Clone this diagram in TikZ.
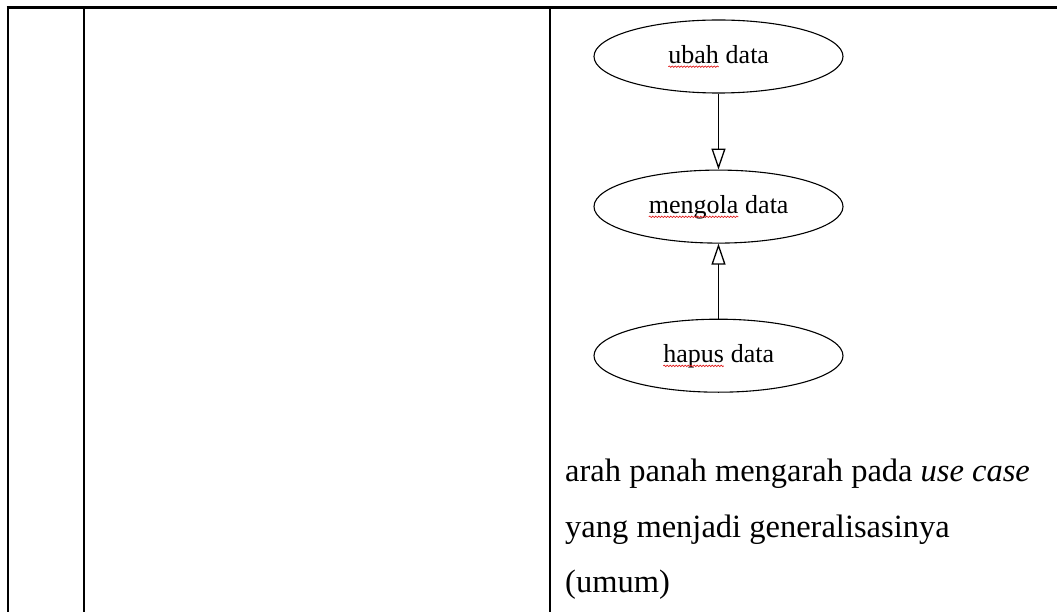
\documentclass[tikz,border=0pt]{standalone}
\usepackage{fontspec}
\setmainfont{Liberation Serif}
\usepackage{xcolor}
\usetikzlibrary{positioning,arrows.meta,shapes.geometric,decorations.pathmorphing}
\definecolor{spellred}{RGB}{225,30,30}
\newcommand{\typo}[1]{\tikz[baseline=(w.base)]{\node[rectangle, draw=none, fill=none, inner sep=0pt, outer sep=0pt, minimum width=0pt, minimum height=0pt, text height=, text depth=] (w) {#1}; \draw[spellred, line width=0.7pt, decorate, decoration={snake, amplitude=0.7pt, segment length=3pt}] ([yshift=-3.4pt]w.base west) -- ([yshift=-3.4pt]w.base east);}}

\begin{document}
\begin{tikzpicture}[x=1pt, y=-1pt,
  usecase/.style={draw, ellipse, line width=1.1pt, minimum width=249pt, minimum height=73pt, inner sep=0pt, font=\fontsize{26}{30}\selectfont, text height=18.2pt, text depth=4.6pt},
  gen/.style={-{Triangle[open, length=21pt, width=14pt, line width=1.3pt]}, line width=1.5pt},
  rule/.style={line width=2.4pt},
  note/.style={anchor=base west, inner sep=0pt, font=\fontsize{32.5}{40}\selectfont}]
\useasboundingbox (0,0) rectangle (1057,612);
% table lines
\draw[rule] (6.5,7.5) -- (1057,7.5);
\draw[rule] (7.7,7.5) -- (7.7,612);
\draw[rule] (83.7,7.5) -- (83.7,612);
\draw[rule] (549.7,7.5) -- (549.7,612);
% use cases
\node[usecase] (ubah) at (718.5,56.5) {\typo{ubah} data};
\node[usecase, below=76pt of ubah] (kelola) {\typo{mengola} data};
\node[usecase, below=75pt of kelola] (hapus) {\typo{hapus} data};
\draw[gen] (ubah) -- (kelola);
\draw[gen] (hapus) -- (kelola);
% keterangan
\node[note] (ket1) at (565,481) {arah panah mengarah pada \textit{use case}};
\node[note] (ket2) at (565,537) {yang menjadi generalisasinya};
\node[note] (ket3) at (565,592) {(umum)};
\end{tikzpicture}
\end{document}
